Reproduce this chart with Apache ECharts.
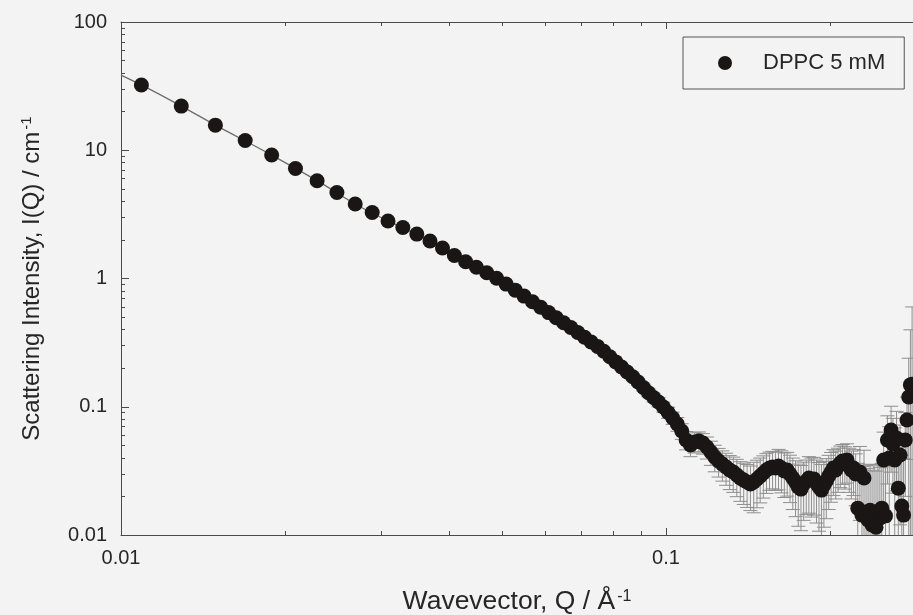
<!DOCTYPE html>
<html>
<head>
<meta charset="utf-8">
<script src="https://cdn.jsdelivr.net/npm/echarts@6/dist/echarts.min.js"></script>
<style>
  html, body { margin: 0; padding: 0; background: #f3f3f3; }
  #chart { width: 913px; height: 615px; }
</style>
</head>
<body>
<div id="chart"></div>
<script>
// SANS scattering curve of DPPC vesicles, 5 mM
const seriesName = 'DPPC 5 mM';

// Wavevector Q (1/Å)
const qValues = [
  0.0109, 0.0129, 0.0149, 0.0169, 0.0189, 0.0209, 0.0229, 0.0249, 0.0269, 0.0289,
  0.0309, 0.0329, 0.0349, 0.0369, 0.0389, 0.0409, 0.0429, 0.0449, 0.0469, 0.0489,
  0.0509, 0.0529, 0.0549, 0.0569, 0.0589, 0.0609, 0.0629, 0.0649, 0.0669, 0.0689,
  0.0709, 0.0729, 0.0749, 0.0769, 0.0789, 0.0809, 0.0829, 0.0849, 0.0869, 0.0889,
  0.0909, 0.0929, 0.0949, 0.0969, 0.0989, 0.1009, 0.1029, 0.1049, 0.1069, 0.1089,
  0.1109, 0.1129, 0.1149, 0.1169, 0.1189, 0.1209, 0.1229, 0.1249, 0.1269, 0.1289,
  0.1309, 0.1329, 0.1349, 0.1369, 0.1389, 0.1409, 0.1429, 0.1449, 0.1469, 0.1489,
  0.1509, 0.1529, 0.1549, 0.1569, 0.1589, 0.1609, 0.1629, 0.1649, 0.1669, 0.1689,
  0.1709, 0.1729, 0.1749, 0.1769, 0.1789, 0.1809, 0.1829, 0.1849, 0.1869, 0.1889,
  0.1909, 0.1929, 0.1949, 0.1969, 0.1989, 0.2009, 0.2029, 0.2049, 0.2069, 0.2089,
  0.2109, 0.2129, 0.2149, 0.2169, 0.2189, 0.2209, 0.2229, 0.2249, 0.2269, 0.2289,
  0.2309, 0.2329, 0.2349, 0.2369, 0.2389, 0.2409, 0.2429, 0.2449, 0.2469, 0.2489,
  0.2509, 0.2529, 0.2549, 0.2569, 0.2589, 0.2609, 0.2629, 0.2649, 0.2669, 0.2689,
  0.2709, 0.2729, 0.2749, 0.2769, 0.2789, 0.2809, 0.2829
];

// Scattering intensity I(Q) (1/cm)
const intensity = [
  32.3, 22.1, 15.7, 11.9, 9.18, 7.21, 5.79, 4.68, 3.81, 3.27,
  2.81, 2.50, 2.22, 1.96, 1.73, 1.51, 1.35, 1.224, 1.108, 1.005,
  0.904, 0.811, 0.729, 0.659, 0.597, 0.542, 0.494, 0.452, 0.415, 0.379,
  0.348, 0.320, 0.2955, 0.2707, 0.2456, 0.2237, 0.204, 0.1866, 0.1712, 0.156,
  0.1413, 0.1287, 0.118, 0.1089, 0.0995, 0.0902, 0.0818, 0.0734, 0.0647, 0.0551,
  0.0503, 0.0531, 0.0541, 0.0522, 0.0486, 0.0444, 0.0406, 0.0378, 0.0358, 0.0339,
  0.0321, 0.031, 0.0294, 0.0278, 0.0268, 0.0259, 0.025, 0.0259, 0.0273, 0.0288,
  0.0304, 0.0321, 0.0333, 0.0339, 0.0333, 0.0345, 0.0333, 0.0316, 0.0321, 0.0299,
  0.0278, 0.0259, 0.0237, 0.0228, 0.025, 0.0264, 0.0278, 0.0268, 0.0273, 0.0254,
  0.0237, 0.0224, 0.0245, 0.0264, 0.0288, 0.031, 0.0333, 0.0321, 0.0345, 0.0364,
  0.0378, 0.0358, 0.0384, 0.0345, 0.0321, 0.0333, 0.0299, 0.0162, 0.031, 0.0143,
  0.0278, 0.0151, 0.0131, 0.0156, 0.0120, 0.0146, 0.0115, 0.0153, 0.0135, 0.0162,
  0.0384, 0.0141, 0.055, 0.0399, 0.0659, 0.0512, 0.0384, 0.0571, 0.0232, 0.042,
  0.0168, 0.0143, 0.055, 0.0788, 0.119, 0.148, 0.15
];

// Absolute uncertainty of I(Q) (1/cm)
const intensityErr = [
  0.8, 0.55, 0.4, 0.3, 0.23, 0.18, 0.15, 0.12, 0.1, 0.085,
  0.073, 0.065, 0.058, 0.051, 0.045, 0.04, 0.036, 0.033, 0.03, 0.027,
  0.025, 0.023, 0.021, 0.019, 0.018, 0.017, 0.016, 0.015, 0.014, 0.013,
  0.012, 0.012, 0.011, 0.011, 0.01, 0.01, 0.0095, 0.0093, 0.009, 0.009,
  0.009, 0.009, 0.009, 0.009, 0.009, 0.009, 0.009, 0.009, 0.009, 0.009,
  0.0095, 0.0095, 0.0095, 0.0095, 0.0095, 0.0095, 0.0095, 0.0095, 0.0095, 0.0095,
  0.0095, 0.0095, 0.0095, 0.0095, 0.0095, 0.0095, 0.0095, 0.011, 0.011, 0.011,
  0.011, 0.011, 0.011, 0.011, 0.011, 0.012, 0.012, 0.012, 0.012, 0.012,
  0.012, 0.012, 0.012, 0.012, 0.012, 0.012, 0.013, 0.013, 0.013, 0.013,
  0.013, 0.013, 0.013, 0.013, 0.013, 0.013, 0.013, 0.013, 0.013, 0.013,
  0.013, 0.013, 0.013, 0.013, 0.013, 0.013, 0.013, 0.02, 0.018, 0.02,
  0.018, 0.02, 0.02, 0.02, 0.02, 0.02, 0.02, 0.02, 0.02, 0.02,
  0.025, 0.02, 0.03, 0.03, 0.035, 0.03, 0.03, 0.035, 0.025, 0.03,
  0.025, 0.025, 0.035, 0.04, 0.12, 0.25, 0.45
];

// Model curve drawn through the low-Q data
const fitQ = [0.01, 0.0109, 0.0129, 0.0149, 0.0189, 0.0229, 0.0269, 0.0309, 0.0369, 0.0429,
  0.0489, 0.0549, 0.0609, 0.0669, 0.0729, 0.0789, 0.0849, 0.0909, 0.0969, 0.1029, 0.1069];
const fitI = [38.6, 32.3, 22.1, 15.7, 9.18, 5.79, 3.81, 2.81, 1.96, 1.35,
  1.005, 0.729, 0.542, 0.415, 0.320, 0.2456, 0.1866, 0.1413, 0.1089, 0.0818, 0.0647];

// Axis ranges and tick positions
const xRange = [0.01, 0.284];
const yRange = [0.01, 100];
const xMajorTicks = [0.01, 0.1];
const xMinorTicks = [0.02, 0.03, 0.04, 0.05, 0.06, 0.07, 0.08, 0.09, 0.2];
const yMajorTicks = [0.01, 0.1, 1, 10, 100];
const yMinorTicks = [
  0.02, 0.03, 0.04, 0.05, 0.06, 0.07, 0.08, 0.09,
  0.2, 0.3, 0.4, 0.5, 0.6, 0.7, 0.8, 0.9,
  2, 3, 4, 5, 6, 7, 8, 9,
  20, 30, 40, 50, 60, 70, 80, 90
];

const FONT = '"Liberation Sans", Arial, Helvetica, sans-serif';
const TEXT = '#262626';
const LINE = '#4a4a4a';

const points = qValues.map((q, i) => [q, intensity[i]]);
const bars = qValues.map((q, i) => [
  q,
  Math.max(intensity[i] - intensityErr[i], 0.001),
  intensity[i] + intensityErr[i]
]);
const fitLine = fitQ.map((q, i) => [q, fitI[i]]);

function renderErrorBar(params, api) {
  const q = api.value(0);
  const top = api.coord([q, api.value(2)]);
  const bottom = api.coord([q, api.value(1)]);
  const half = 7;
  const style = { stroke: '#8e8e8e', lineWidth: 1 };
  return {
    type: 'group',
    children: [
      { type: 'line', shape: { x1: top[0], y1: top[1], x2: bottom[0], y2: bottom[1] }, style },
      { type: 'line', shape: { x1: top[0] - half, y1: top[1], x2: top[0] + half, y2: top[1] }, style },
      { type: 'line', shape: { x1: bottom[0] - half, y1: bottom[1], x2: bottom[0] + half, y2: bottom[1] }, style }
    ]
  };
}

function tickAxis(position, values, length, showLine) {
  return {
    type: 'log', logBase: 10, position,
    min: xRange[0], max: xRange[1],
    axisLine: { show: showLine, onZero: false, lineStyle: { color: LINE, width: 1 } },
    axisTick: { show: true, inside: true, length, customValues: values, lineStyle: { color: LINE, width: 1 } },
    axisLabel: { show: false },
    splitLine: { show: false }
  };
}

function titleRich(size, supSize, raise) {
  return {
    t: { fontFamily: FONT, fontSize: size, color: TEXT, verticalAlign: 'bottom', lineHeight: size + 6 },
    s: { fontFamily: FONT, fontSize: supSize, color: TEXT, verticalAlign: 'bottom', lineHeight: size + 6, padding: [0, 0, raise, 2] }
  };
}

const chart = echarts.init(document.getElementById('chart'), null, { renderer: 'canvas' });
chart.setOption({
  animation: false,
  backgroundColor: '#f3f3f3',
  textStyle: { fontFamily: FONT },
  grid: { left: 121, top: 22, right: 0, bottom: 80, containLabel: false, outerBoundsMode: 'none' },
  legend: {
    left: 683, top: 37,
    padding: [15, 19, 15, 35],
    borderColor: '#555', borderWidth: 1,
    itemWidth: 14, itemHeight: 14,
    data: [{ name: seriesName, icon: 'circle' }],
    textStyle: { fontFamily: FONT, fontSize: 22, color: TEXT, padding: [0, 0, 0, 26] }
  },
  xAxis: [
    {
      type: 'log', logBase: 10, position: 'bottom',
      min: xRange[0], max: xRange[1],
      name: '{t|Wavevector, Q / Å}{s|-1}',
      nameLocation: 'middle', nameGap: 48,
      nameTextStyle: { rich: titleRich(26.5, 16, 11) },
      axisLine: { show: true, onZero: false, lineStyle: { color: LINE, width: 1 } },
      axisTick: { show: true, inside: true, length: 7, customValues: xMajorTicks, lineStyle: { color: LINE, width: 1 } },
      axisLabel: {
        show: true, customValues: xMajorTicks, margin: 13,
        fontFamily: FONT, fontSize: 20, color: TEXT,
        formatter: (v) => String(v)
      },
      splitLine: { show: false }
    },
    tickAxis('bottom', xMinorTicks, 4, false),
    tickAxis('top', xMajorTicks, 7, true),
    tickAxis('top', xMinorTicks, 4, false)
  ],
  yAxis: [
    {
      type: 'log', logBase: 10, position: 'left',
      min: yRange[0], max: yRange[1],
      name: '{t|Scattering Intensity, I(Q) / cm}{s|-1}',
      nameLocation: 'middle', nameGap: 77, nameRotate: 90,
      nameTextStyle: { rich: titleRich(24, 15, 10) },
      axisLine: { show: true, onZero: false, lineStyle: { color: LINE, width: 1 } },
      axisTick: { show: true, inside: true, length: 8, customValues: yMajorTicks, lineStyle: { color: LINE, width: 1 } },
      axisLabel: {
        show: true, customValues: yMajorTicks, margin: 14,
        fontFamily: FONT, fontSize: 20, color: TEXT,
        formatter: (v) => String(v)
      },
      splitLine: { show: false }
    },
    {
      type: 'log', logBase: 10, position: 'left',
      min: yRange[0], max: yRange[1],
      axisLine: { show: false },
      axisTick: { show: true, inside: true, length: 4, customValues: yMinorTicks, lineStyle: { color: LINE, width: 1 } },
      axisLabel: { show: false },
      splitLine: { show: false }
    }
  ],
  series: [
    {
      name: 'fit',
      type: 'line',
      data: fitLine,
      showSymbol: false,
      smooth: 0.3,
      lineStyle: { color: '#6e6e6e', width: 1.4 },
      z: 1,
      silent: true
    },
    {
      name: 'error',
      type: 'custom',
      data: bars,
      renderItem: renderErrorBar,
      encode: { x: 0, y: [1, 2] },
      clip: true,
      z: 2,
      silent: true
    },
    {
      name: seriesName,
      type: 'scatter',
      data: points,
      symbol: 'circle',
      symbolSize: 15,
      itemStyle: { color: '#1b1616', opacity: 1 },
      clip: true,
      z: 3
    }
  ]
});
</script>
</body>
</html>
